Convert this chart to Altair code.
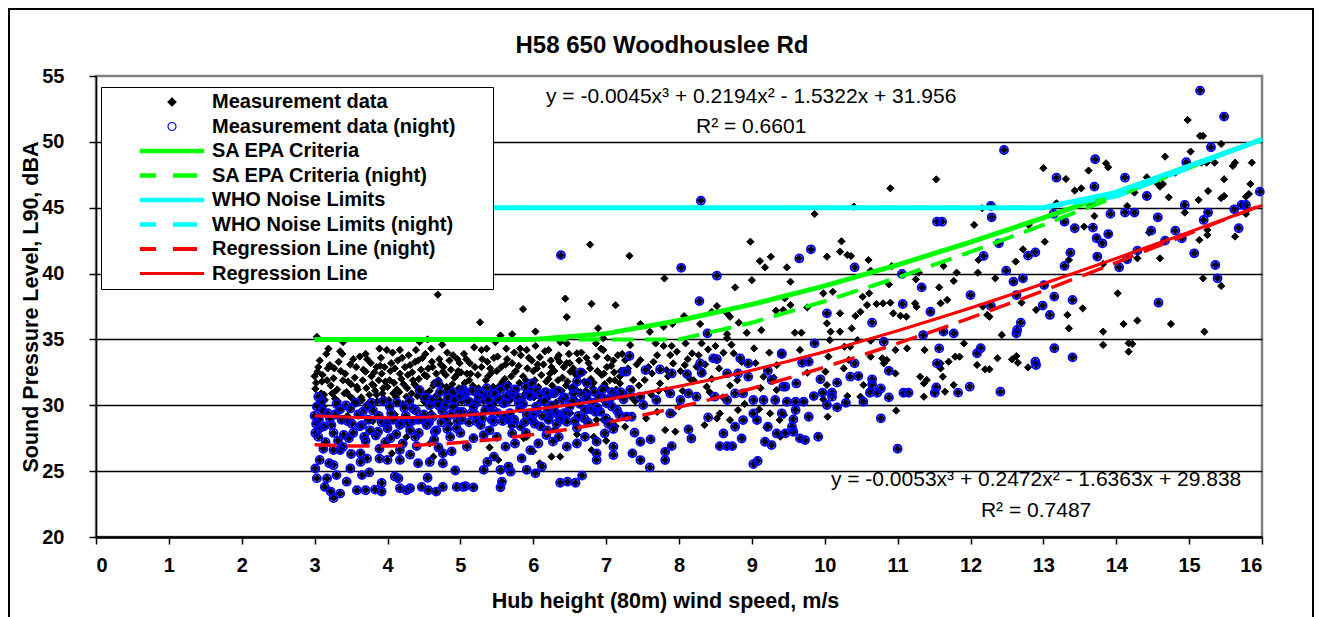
import altair as alt
import pandas as pd

TITLE = "H58 650 Woodhouslee Rd"
X_TITLE = "Hub height (80m) wind speed, m/s"
Y_TITLE = "Sound Pressure Level, L90, dBA"

SERIES = ["Measurement data", "Measurement data (night)", "SA EPA Criteria",
          "SA EPA Criteria (night)", "WHO Noise Limits", "WHO Noise Limits (night)",
          "Regression Line (night)", "Regression Line"]
COLORS = ["#000000", "#0000ff", "#00ff00", "#00ff00", "#00ffff", "#00ffff", "#ff0000", "#ff0000"]
FILLS = ["#000000", "transparent", "#00ff00", "#00ff00", "#00ffff", "#00ffff", "#ff0000", "#ff0000"]
# legend / point symbols (unit paths are scaled by the symbol size)
SOLID_THICK = "M-7.9,-0.44H7.9V0.44H-7.9Z"
DASH_THICK = "M-7.9,-0.4H-4.1V0.4H-7.9Z M0.4,-0.4H6.1V0.4H0.4Z"
SOLID_THIN = "M-7.9,-0.25H7.9V0.25H-7.9Z"
DASH_THIN = "M-7.9,-0.32H-4.1V0.32H-7.9Z M0.4,-0.32H6.1V0.32H0.4Z"
SHAPES = ["diamond", "circle", SOLID_THICK, DASH_THICK, SOLID_THICK, DASH_THICK, DASH_THIN, SOLID_THIN]

x_ticks = list(range(0, 17))
y_ticks = [20, 25, 30, 35, 40, 45, 50, 55]

# ---- measurement data (not night) : (wind speed m/s, L90 dBA)
day_3_5 = [(4.69,38.4),(3.03,35.2),(3.39,34.8),(3.35,34.1),(3.16,33.9),(3.53,33.5),(3.21,33.05),(3.18,32.8),(3.0,32.2),(3.04,32.55),(3.26,32.05),(3.39,31.9),(3.01,31.25),(3.09,30.9),(3.31,31.2),(3.44,31.0),(3.14,30.4),(3.89,34.3),(3.99,34.2),(4.17,34.2),(3.72,33.5),(3.7,32.55),(3.85,32.9),(3.92,32.4),(4.03,31.9),(4.17,32.4),(4.31,33.05),(4.42,33.4),(4.44,34.8),(4.55,35.0),(4.6,34.3),(4.71,33.5),(4.85,33.4),(4.99,33.2),(4.95,32.3),(4.35,31.9),(4.54,32.2),(4.76,32.55),(3.81,31.5),(3.94,31.3),(4.13,31.2),(4.63,31.5),(4.81,31.4),(5.04,31.4),(3.85,30.8),(4.26,30.65),(4.49,30.5),(4.72,30.4),(3.59,31.2),(3.65,30.4),
           (3.05,32.9),(3.1,31.8),(3.12,29.9),(3.22,31.5),(3.28,30.5),(3.33,33.3),(3.42,32.4),(3.48,30.7),(3.5,31.6),(3.57,32.9),(3.6,30.2),(3.66,31.9),(3.7,33.9),(3.75,30.8),(3.78,32.2),(3.83,31.1),(3.9,33.0),(3.95,30.5),(3.97,31.8),(4.05,33.2),(4.08,30.9),(4.1,32.8),(4.15,30.2),(4.2,33.6),(4.22,31.6),(4.28,32.3),(4.33,30.9),(4.38,33.3),(4.4,31.4),(4.46,32.7),(4.5,30.3),(4.52,33.9),(4.58,31.1),(4.62,32.9),(4.66,30.7),(4.7,31.9),(4.75,34.6),(4.78,30.1),(4.8,32.3),(4.86,31.2),(4.9,33.8),(4.93,30.6),(4.97,32.6),(5.02,30.3),(3.45,29.2),(3.8,28.8),(4.1,29.3),(4.6,29.4),(4.85,28.6),(4.26,27.6),(4.63,26.1),(4.58,27.1),(4.06,26.35),
           (3.02,31.7),(3.04,30.1),(3.07,33.4),(3.11,32.3),(3.13,30.8),(3.17,31.9),(3.19,34.3),(3.24,30.9),(3.27,32.8),(3.29,31.1),(3.32,30.3),(3.36,32.6),(3.38,33.9),(3.41,30.9),(3.46,31.8),(3.49,33.1),(3.52,30.5),(3.55,32.1),(3.58,31.4),(3.62,33.7),(3.64,30.6),(3.67,32.7),(3.71,31.3),(3.73,30.1),(3.77,33.2),(3.79,31.6),(3.82,32.5),(3.86,30.3),(3.88,31.9),(3.91,33.6),(3.93,30.9),(3.96,32.9),(4.0,31.4),(4.02,30.4),(4.04,32.6),(4.07,34.0),(4.09,31.7),(4.12,30.6),(4.14,33.4),(4.16,31.0),(4.19,32.0),(4.21,30.1),(4.24,32.9),(4.27,31.3),(4.29,33.8),(4.32,30.4),(4.34,32.5),(4.37,31.6),(4.39,34.2),(4.41,30.7),(4.43,32.0),(4.47,31.0),(4.48,33.6),(4.51,32.3),(4.53,30.9),(4.56,32.8),(4.59,30.5),(4.61,33.3),(4.64,31.7),(4.67,32.4),(4.69,30.2),(4.73,33.1),(4.74,31.5),(4.77,32.9),(4.79,31.0),(4.82,34.0),(4.84,30.4),(4.87,32.7),(4.89,31.6),(4.92,32.1),(4.94,30.1),(4.96,33.5),(4.98,31.3)]
day_5_7 = [(6.78,42.2),(6.44,38.1),(6.8,37.7),(7.13,37.6),(5.86,37.3),(6.46,36.7),(5.27,36.3),(5.55,35.3),(5.71,35.4),(6.03,35.6),(6.37,34.8),(6.46,34.7),(6.89,35.85),(6.96,35.1),(6.86,34.7),(5.36,34.3),(5.29,34.2),(5.82,34.3),(5.91,34.2),(6.21,34.2),(6.96,34.2),(5.46,33.6),(5.64,33.5),(6.09,33.65),(6.35,33.8),(6.6,33.95),(6.46,33.2),(5.13,33.2),(6.76,33.2),(7.01,32.9),(7.1,33.4),(6.05,32.8),(5.09,32.4),(5.41,32.8),(5.75,32.55),(6.23,32.4),(6.51,32.55),(7.19,32.2),(5.91,27.6),(6.25,26.1),(6.37,26.1),(6.09,25.6),(5.87,27.5),(5.52,25.85),(7.13,28.4),(6.96,28.9),(7.08,28.75),(6.87,28.9),(6.51,29.4),(6.83,27.6),
           (5.05,33.9),(5.12,31.9),(5.15,30.3),(5.2,32.9),(5.25,31.3),(5.3,33.5),(5.33,30.6),(5.38,32.2),(5.42,31.0),(5.48,34.8),(5.5,32.6),(5.53,30.4),(5.58,31.8),(5.62,33.1),(5.67,30.8),(5.7,32.2),(5.74,34.0),(5.78,31.2),(5.8,33.0),(5.85,30.5),(5.9,31.9),(5.94,33.6),(5.97,30.9),(6.0,32.6),(6.03,34.5),(6.07,31.4),(6.1,30.3),(6.14,33.1),(6.18,31.8),(6.22,30.7),(6.25,32.9),(6.3,31.2),(6.33,33.6),(6.38,30.5),(6.4,32.1),(6.45,31.5),(6.5,33.2),(6.53,30.9),(6.57,32.4),(6.62,31.0),(6.66,34.0),(6.7,31.8),(6.74,30.4),(6.78,32.8),(6.82,31.3),(6.87,33.7),(6.9,30.8),(6.94,32.3),(6.98,31.6),(7.03,30.2),(7.07,33.0),(7.12,31.9),(7.17,30.7),(7.2,32.6),(5.3,29.3),(5.7,28.4),(6.3,28.2),(6.6,27.8),(6.0,26.5),(5.4,26.8),(6.8,26.6),(7.0,27.3),
           (5.01,32.5),(5.03,30.9),(5.06,31.7),(5.08,33.5),(5.1,30.5),(5.14,32.4),(5.17,31.5),(5.19,34.4),(5.22,30.8),(5.24,32.3),(5.27,31.0),(5.29,32.9),(5.32,30.3),(5.35,31.9),(5.37,33.3),(5.39,30.7),(5.43,32.5),(5.45,31.4),(5.47,30.2),(5.51,33.7),(5.54,31.5),(5.56,32.9),(5.59,30.6),(5.61,32.0),(5.63,34.3),(5.66,31.6),(5.69,30.4),(5.71,33.2),(5.73,31.0),(5.76,32.6),(5.79,30.6),(5.81,31.7),(5.83,33.8),(5.86,32.2),(5.89,30.9),(5.92,32.8),(5.95,31.2),(5.98,33.4),(6.01,30.6),(6.02,31.9),(6.06,33.1),(6.08,30.9),(6.11,32.3),(6.13,31.0),(6.16,34.1),(6.19,30.5),(6.21,32.0),(6.24,33.4),(6.26,31.5),(6.29,32.6),(6.31,30.2),(6.34,31.9),(6.36,33.3),(6.39,31.1),(6.42,32.9),(6.44,30.6),(6.47,31.8),(6.49,33.9),(6.52,31.3),(6.55,32.8),(6.58,30.4),(6.61,32.2),(6.63,33.4),(6.65,31.0),(6.69,32.5),(6.72,31.1),(6.73,33.6),(6.77,30.9),(6.79,32.0),(6.83,31.7),(6.85,30.3),(6.88,32.6),(6.92,31.0),(6.93,34.3),(6.97,32.4),(7.0,31.3),(7.02,33.6),(7.05,31.9),(7.09,30.6),(7.11,32.5),(7.14,31.2),(7.16,33.8),(7.18,30.9)]
day_7_9 = [(8.98,42.42),(7.32,41.35),(9.11,40.95),(9.26,41.28),(9.18,40.47),(7.8,39.63),(9.0,39.5),(8.77,38.95),(8.52,37.53),(8.45,37.1),(8.66,36.98),(8.7,36.72),(8.07,36.77),(8.29,36.17),(7.79,35.96),(7.91,36.17),(7.47,36.17),(7.6,35.58),(8.93,35.5),(8.82,36.27),(9.13,35.7),(9.33,37.18),(9.43,37.23),(8.66,35.41),(8.66,35.1),(7.68,34.7),(7.33,34.57),(7.79,34.5),(8.09,34.7),(8.31,34.7),(8.4,34.24),(8.18,33.94),(7.88,33.81),(7.97,34.07),(9.03,34.32),(8.75,33.94),(8.61,33.99),(7.26,33.43),(7.47,33.43),(7.65,33.3),(7.92,33.18),(8.08,33.05),(8.24,32.93),(7.63,32.42),(7.83,32.67),(8.33,32.42),(7.53,31.92),(7.74,31.66),(9.34,33.05),(9.16,32.17),(7.19,31.66),(7.24,30.9),(7.37,31.92),(7.83,31.16),(8.38,31.41),(7.92,29.38),(8.56,29.38),(8.52,29.0),(7.81,28.12),(7.28,29.13),(7.26,28.37),(8.81,29.64),(8.7,28.88),(9.34,31.16),(9.38,28.88),(9.25,29.38),
           (7.4,30.3),(7.7,29.5),(8.0,29.9),(8.2,31.9),(8.45,32.0),(8.7,31.5),(8.9,30.1),(9.1,29.7),(9.2,28.3),(8.35,28.5),(7.95,28.0),(7.55,29.0),
           (7.22,33.9),(7.3,32.8),(7.35,30.6),(7.42,33.1),(7.45,31.5),(7.58,32.9),(7.62,30.8),(7.7,33.8),(7.72,31.1),(7.85,32.2),(7.9,34.5),(8.02,32.6),(8.05,31.1),(8.12,33.5),(8.15,32.0),(8.27,33.8),(8.36,33.1),(8.42,31.0),(8.5,34.5),(8.55,32.8),(8.6,30.6),(8.72,34.6),(8.8,31.9),(8.86,33.3),(9.05,33.2),(9.12,31.3),(9.24,34.0),(9.3,32.1)]
day_9_12 = [(11.53,47.15),(10.9,46.47),(10.4,45.08),(9.86,44.52),(10.23,42.45),(10.21,41.66),(10.31,41.41),(10.36,41.33),(10.03,41.28),(10.6,41.03),(9.48,40.47),(10.63,40.22),(10.92,40.57),(9.53,39.38),(11.25,39.56),(11.29,40.07),(10.88,39.18),(11.57,38.95),(11.63,40.57),(9.45,38.12),(9.98,38.5),(10.11,38.62),(10.52,38.24),(10.61,38.5),(9.76,37.43),(9.53,37.61),(10.21,36.98),(10.58,37.61),(10.71,37.69),(10.8,37.74),(10.9,37.79),(10.94,36.98),(11.04,36.8),(11.24,37.74),(11.26,37.48),(11.12,36.73),(10.49,37.1),(10.42,36.78),(10.37,35.84),(10.03,36.22),(10.08,35.59),(10.21,35.59),(9.59,35.51),(9.68,35.51),(10.07,34.95),(10.45,34.95),(10.63,34.9),(10.35,34.45),(10.27,34.45),(11.13,34.32),(10.97,34.2),(11.37,34.2),(10.63,33.69),(9.66,34.2),(10.05,33.69),(10.79,33.56),(10.85,33.44),(10.81,33.18),(11.59,33.18),(10.33,33.44),(10.97,32.42),(10.01,32.55),(10.26,32.8),(9.76,32.47),(11.31,32.17),(11.4,31.92),(11.36,31.66),(10.03,31.54),(10.53,31.54),(10.63,31.21),(10.31,30.7),(10.49,30.65),(9.98,30.45),(11.59,32.8),(11.36,30.65),(10.98,29.59),(10.04,29.13),(9.44,29.26),(9.39,27.61)]
day_12_16 = [(13.0,48.0),(13.62,47.82),(13.31,47.18),(13.43,46.3),(13.52,46.47),(13.18,45.34),(12.16,44.96),(13.7,44.37),(12.05,43.69),(12.8,43.69),(13.56,43.56),(13.02,42.42),(12.72,41.84),(12.11,41.03),(12.62,40.91),(13.35,41.03),(11.81,40.07),(12.1,40.07),(12.34,39.64),(11.77,39.44),(11.68,38.0),(11.59,37.74),(12.17,37.49),(12.23,36.86),(12.26,36.73),(12.7,37.79),(12.9,37.24),(13.33,36.86),(13.54,37.36),(13.35,35.84),(12.43,35.34),(11.91,34.7),(11.7,33.31),(11.79,33.69),(11.85,33.69),(12.09,33.06),(12.2,32.73),(12.26,32.73),(12.37,33.57),(12.57,33.49),(12.63,33.74),(12.65,33.23),(12.79,32.88),(11.62,32.17),(11.65,31.03),(11.77,31.54),(13.82,35.59),(13.82,34.58),
             (14.98,51.66),(15.15,50.45),(15.19,50.45),(15.44,49.84),(15.02,49.26),(13.86,48.37),(13.89,48.07),(14.67,48.88),(15.24,48.42),(15.35,48.42),(15.17,48.42),(15.63,48.42),(15.6,48.17),(15.86,48.42),(14.81,47.66),(14.42,47.31),(15.48,47.16),(14.57,46.8),(14.64,46.8),(14.6,46.6),(15.84,46.8),(14.25,46.15),(15.26,46.27),(14.72,45.79),(15.13,45.59),(15.44,45.72),(15.48,45.89),(15.78,45.84),(15.82,46.04),(14.15,45.13),(14.94,44.63),(15.78,44.53),(15.8,44.83),(14.45,43.11),(15.25,43.31),(15.25,42.93),(15.63,42.81),(15.14,42.55),(14.29,41.16),(14.6,41.16),(13.82,40.73),(14.02,38.5),(15.19,39.64),(15.44,39.06),(14.1,36.17),(14.29,36.43),(14.75,36.17),(15.21,35.59),(14.17,34.71),(14.22,34.66),(14.17,34.07)]

# ---- measurement data (night)
night_3_5 = [(3.05,30.65),(3.0,29.2),(3.21,29.0),(3.07,28.25),(3.01,27.9),(3.26,27.9),(3.4,27.75),(3.53,27.9),(3.65,28.5),(3.76,28.1),(3.87,28.0),(4.0,28.25),(4.17,28.5),(4.31,28.1),(4.42,28.9),(4.54,28.5),(4.67,28.1),(4.81,29.0),(4.95,28.25),(3.49,29.75),(3.35,29.7),(3.72,29.9),(4.03,29.9),(4.35,29.75),(4.58,30.0),(4.9,29.9),(4.72,31.0),(4.9,31.0),(5.04,31.15),(4.44,31.15),(4.69,31.7),(3.05,27.6),(3.12,26.7),(3.26,26.6),(3.35,26.6),(3.39,26.85),(3.63,26.35),(3.63,25.7),(3.72,25.95),(3.89,26.7),(3.89,25.95),(4.0,25.85),(4.17,25.85),(4.17,26.6),(4.31,26.25),(4.42,25.6),(4.58,25.7),(4.76,26.35),(4.76,25.6),(4.88,26.5),(3.01,25.2),(3.07,25.85),(3.2,25.6),(3.26,25.45),(3.03,24.45),(3.17,24.45),(3.49,25.2),(3.65,24.7),(3.14,23.8),(3.22,23.45),(3.26,22.95),(3.35,23.3),(3.44,24.2),(3.58,23.55),(3.7,23.55),(3.83,23.6),(3.92,24.1),(3.92,23.45),(4.15,24.45),(4.17,23.7),(4.26,23.55),(4.31,23.7),(4.47,23.8),(4.56,23.55),(4.67,23.45),(4.76,23.8),(4.95,23.8),(5.04,23.8),(4.93,25.05),
             (3.1,29.6),(3.3,30.1),(3.45,28.8),(3.6,29.3),(3.68,27.6),(3.8,29.6),(3.92,28.7),(4.05,29.4),(4.12,27.8),(4.23,29.8),(4.28,28.6),(4.38,27.6),(4.5,29.3),(4.6,30.4),(4.64,27.4),(4.75,29.6),(4.83,30.6),(4.86,27.6),(4.98,29.5),(5.0,30.7),(3.02,28.6),(3.15,27.2),(3.5,26.3),(3.97,27.2),(4.4,26.9),(4.7,26.8),(5.0,27.9),(3.75,24.9),(4.1,24.6),(4.55,24.5),(3.3,24.7),
             (3.03,29.9),(3.06,28.9),(3.09,30.3),(3.13,28.4),(3.18,29.4),(3.23,28.5),(3.28,29.3),(3.32,27.3),(3.37,28.9),(3.43,30.0),(3.47,27.5),(3.51,28.6),(3.56,30.2),(3.62,28.4),(3.66,29.5),(3.7,27.3),(3.74,28.9),(3.78,30.2),(3.84,27.7),(3.88,29.2),(3.94,30.3),(3.99,28.6),(4.04,27.5),(4.08,28.9),(4.13,30.2),(4.19,28.7),(4.21,27.1),(4.25,29.2),(4.3,30.3),(4.34,28.8),(4.39,29.6),(4.43,27.9),(4.48,28.9),(4.52,30.6),(4.57,28.7),(4.62,29.1),(4.65,28.0),(4.7,30.0),(4.74,28.7),(4.78,29.9),(4.82,28.2),(4.87,29.3),(4.91,30.4),(4.96,28.8)]
night_5_7 = [(6.38,41.4),(7.24,32.55),(6.65,32.5),(6.6,31.8),(6.74,31.67),(5.07,31.0),(5.27,31.0),(5.46,30.9),(5.64,31.4),(5.89,31.4),(5.98,31.67),(6.21,30.9),(6.56,30.9),(6.9,30.65),(7.08,31.0),(5.18,29.9),(5.41,29.9),(5.59,30.15),(5.82,29.77),(6.05,29.64),(6.23,29.26),(6.42,29.4),(6.71,29.64),(6.85,29.5),(7.01,30.15),(5.02,28.9),(5.23,28.75),(5.46,28.75),(5.66,28.9),(5.98,28.9),(6.21,28.9),(6.35,29.26),(6.46,28.75),(5.09,26.86),(5.18,27.5),(5.32,27.74),(5.5,27.6),(5.71,27.87),(5.62,26.86),(5.75,27.1),(5.96,26.6),(6.07,27.1),(6.18,27.74),(6.27,27.24),(6.46,26.86),(6.6,27.1),(6.71,27.6),(6.87,27.24),(6.98,27.87),(7.1,26.86),(6.87,26.35),(6.87,25.85),(7.1,26.22),(5.37,25.7),(5.32,25.1),(5.46,26.1),(5.55,25.1),(5.66,25.35),(5.69,24.96),(5.84,25.97),(5.91,25.1),(6.03,24.83),(6.12,25.35),(5.57,24.2),(5.55,23.77),(5.07,23.87),(5.18,23.77),(6.37,24.12),(6.47,24.2),(6.58,24.12),(6.67,24.66),
             (5.1,30.3),(5.15,29.4),(5.25,30.6),(5.3,29.0),(5.36,31.3),(5.45,29.6),(5.52,30.5),(5.6,29.1),(5.65,30.7),(5.72,28.6),(5.75,31.2),(5.8,30.2),(5.88,28.7),(5.93,30.8),(6.0,29.3),(6.05,31.1),(6.1,28.4),(6.15,30.3),(6.2,29.7),(6.28,30.9),(6.32,28.6),(6.4,30.4),(6.5,29.9),(6.55,31.3),(6.62,29.2),(6.68,30.8),(6.75,28.7),(6.8,30.2),(6.88,29.8),(6.95,31.2),(7.0,29.0),(7.05,30.5),(7.15,29.6),(7.2,31.0),(5.4,28.1),(5.9,27.9),(6.35,27.6),(6.6,28.3),(7.1,28.2),
             (5.03,29.5),(5.06,30.8),(5.12,28.7),(5.16,31.1),(5.2,29.3),(5.22,30.2),(5.28,28.5),(5.31,30.9),(5.34,29.6),(5.39,30.4),(5.43,28.9),(5.48,30.9),(5.51,29.4),(5.55,31.2),(5.58,28.8),(5.62,30.2),(5.68,29.4),(5.71,30.9),(5.74,28.9),(5.79,30.6),(5.83,28.4),(5.86,30.1),(5.91,29.3),(5.96,30.7),(6.02,28.6),(6.04,29.9),(6.09,30.8),(6.13,29.2),(6.17,31.0),(6.19,28.1),(6.25,30.0),(6.3,29.5),(6.34,31.1),(6.37,28.9),(6.43,30.6),(6.47,29.4),(6.53,30.3),(6.57,28.8),(6.64,30.1),(6.7,29.0),(6.73,30.6),(6.78,29.7),(6.84,31.0),(6.92,29.5),(6.97,30.5),(7.03,28.6),(7.08,29.9),(7.13,30.8),(7.18,29.3)]
night_7_9 = [(8.3,45.53),(8.03,40.44),(8.52,39.84),(8.28,37.91),(8.39,35.46),(7.32,33.74),(7.28,32.55),(7.54,32.67),(7.74,32.72),(7.9,32.42),(8.11,32.37),(8.29,33.18),(8.47,33.56),(8.52,33.51),(8.31,32.47),(8.84,33.56),(8.95,33.18),(8.81,32.42),(8.66,32.42),(8.95,32.17),(9.22,32.62),(9.41,33.89),(9.43,31.41),(9.27,31.92),(7.33,31.16),(7.47,30.65),(7.24,30.45),(7.51,30.02),(7.69,30.4),(7.88,30.9),(8.13,30.9),(8.02,30.4),(8.24,30.65),(8.49,30.65),(8.66,30.4),(8.77,30.9),(8.88,30.9),(9.02,30.4),(9.16,30.4),(9.32,30.4),(7.28,29.13),(7.35,29.13),(7.88,29.38),(8.4,29.08),(8.88,28.88),(9.02,29.38),(9.07,28.88),(9.22,28.37),(9.34,27.86),(9.18,27.23),(9.27,26.98),(8.77,28.37),(8.86,27.48),(8.61,27.86),(8.13,28.17),(8.17,27.48),(7.39,27.92),(7.47,27.23),(7.61,27.41),(7.9,26.9),(7.81,26.47),(7.36,26.35),(7.47,25.84),(7.81,25.84),(7.6,25.28),(8.56,26.9),(8.66,26.9),(8.73,26.9),(9.02,25.54),(9.08,25.77)]
night_9_12 = [(11.54,43.94),(11.61,43.94),(9.81,41.84),(9.65,41.15),(10.41,40.47),(11.06,39.97),(11.33,38.95),(11.07,37.69),(11.45,37.1),(10.03,36.98),(10.65,36.27),(11.63,35.59),(11.35,35.33),(9.86,34.7),(10.81,34.83),(11.57,34.32),(9.41,33.94),(9.69,33.23),(9.78,33.31),(10.41,33.18),(11.54,33.18),(10.88,32.62),(9.46,31.41),(9.61,31.66),(9.94,31.97),(10.17,31.72),(10.35,32.17),(10.46,32.22),(10.65,31.97),(10.65,31.59),(10.77,31.28),(10.72,30.95),(10.62,30.95),(11.08,30.95),(11.15,30.95),(11.53,31.36),(11.51,30.95),(9.85,30.7),(9.97,30.95),(10.1,30.95),(10.1,30.65),(10.29,30.19),(10.53,30.27),(10.88,30.6),(9.48,30.27),(9.6,30.27),(9.71,30.27),(10.03,30.02),(10.17,29.84),(9.6,29.64),(9.78,29.13),(9.41,29.39),(9.57,28.93),(9.55,28.37),(9.46,27.87),(9.57,27.99),(9.73,27.36),(9.66,27.49),(9.91,27.61),(10.77,29.01),(11.0,26.7)]
night_12_16 = [(12.46,49.38),(13.71,48.68),(13.18,47.28),(13.7,46.6),(12.28,45.13),(13.65,45.34),(12.29,44.27),(13.14,44.53),(13.29,43.94),(13.43,43.44),(13.68,43.49),(13.73,42.68),(13.81,42.3),(12.39,42.3),(12.18,41.34),(13.37,41.59),(12.79,41.36),(12.89,41.61),(13.74,41.29),(12.49,40.22),(13.29,40.58),(12.59,39.39),(12.72,39.64),(13.01,39.13),(12.63,38.37),(12.0,38.37),(13.15,38.25),(13.4,38.0),(12.28,37.54),(12.99,37.57),(13.09,36.86),(12.69,36.27),(12.64,35.72),(12.63,35.46),(11.77,35.46),(12.14,34.33),(12.09,33.95),(13.15,34.33),(13.4,33.64),(12.89,33.31),(12.9,33.06),(11.99,31.41),(12.41,31.03),(11.83,30.96),
               (15.15,53.89),(15.48,51.92),(15.3,49.59),(14.96,48.45),(14.12,47.28),(14.42,45.89),(15.97,46.22),(14.94,45.21),(13.92,44.53),(14.12,44.63),(14.25,44.63),(14.57,44.27),(15.62,44.88),(15.72,45.21),(15.78,45.21),(15.26,44.63),(15.2,44.07),(13.89,43.0),(14.48,43.26),(14.81,43.26),(14.9,42.68),(14.67,42.5),(14.29,41.74),(14.15,41.08),(15.68,43.44),(15.07,41.54),(14.04,40.48),(15.36,40.65),(15.39,39.64),(14.58,37.79)]

# ---- regression lines (fits shown on chart)
reg_x = [3.0, 3.5, 4.0, 4.5, 5.0, 5.5, 6.0, 6.5, 7.0, 7.5, 8.0, 8.5, 9.0, 9.5, 10.0, 10.5, 11.0, 11.5, 12.0, 12.5, 13.0, 13.5, 14.0, 14.5, 15.0, 15.5, 16.0]
reg_all = [29.21, 29.09, 29.05, 29.09, 29.22, 29.42, 29.69, 30.03, 30.44, 30.91, 31.44, 32.02, 32.66, 33.34, 34.07, 34.85, 35.66, 36.51, 37.39, 38.30, 39.23, 40.19, 41.16, 42.15, 43.15, 44.16, 45.18]
reg_night = [27.01, 26.91, 26.91, 27.00, 27.17, 27.43, 27.78, 28.19, 28.68, 29.24, 29.86, 30.54, 31.27, 32.06, 32.90, 33.78, 34.70, 35.65, 36.64, 37.66, 38.70, 39.76, 40.84, 41.93, 43.03, 44.13, 45.23]

# ---- criteria lines
crit_x = [3, 4, 5, 6, 7, 8, 9, 10, 11, 12, 13, 14, 15, 16]
sa_epa = [35.0, 35.0, 35.0, 35.0, 35.44, 36.44, 37.66, 39.07, 40.66, 42.39, 44.23, 46.16, 48.15, 50.18]
sa_epa_night = [35.0, 35.0, 35.0, 35.0, 35.0, 35.0, 36.27, 37.90, 39.70, 41.64, 43.70, 45.84, 48.03, 50.23]
who = [45.0, 45.0, 45.0, 45.0, 45.0, 45.0, 45.0, 45.0, 45.0, 45.0, 45.0, 46.16, 48.15, 50.18]
who_night = [45.0, 45.0, 45.0, 45.0, 45.0, 45.0, 45.0, 45.0, 45.0, 45.0, 45.0, 45.84, 48.03, 50.23]

# ---- trendline labels
eq_text = ["y = -0.0045x³ + 0.2194x² - 1.5322x + 31.956", "R² = 0.6601",
           "y = -0.0053x³ + 0.2472x² - 1.6363x + 29.838", "R² = 0.7487"]
eq_x = [8.99, 8.99, 12.9, 12.9]
eq_y = [52.95, 50.67, 23.9, 21.54]

# ---------------- build tables
day_all = day_3_5 + day_5_7 + day_7_9 + day_9_12 + day_12_16
night_all = night_3_5 + night_5_7 + night_7_9 + night_9_12 + night_12_16

diam_df = pd.DataFrame(day_all + night_all, columns=["x", "y"])
diam_df["series"] = SERIES[0]
circ_df = pd.DataFrame(night_all, columns=["x", "y"])
circ_df["series"] = SERIES[1]

def line_df(xs, ys, name):
    return pd.DataFrame({"x": xs, "y": ys, "series": name})

df_sa = line_df(crit_x, sa_epa, SERIES[2])
df_san = line_df(crit_x, sa_epa_night, SERIES[3])
df_who = line_df(crit_x, who, SERIES[4])
df_whon = line_df(crit_x, who_night, SERIES[5])
df_regn = line_df(reg_x, reg_night, SERIES[6])
df_reg = line_df(reg_x, reg_all, SERIES[7])
eq_df = pd.DataFrame({"x": eq_x, "y": eq_y, "t": eq_text})
frame_df = pd.DataFrame({"a": [0]})

FONT = "Liberation Sans"

X = alt.X("x:Q", scale=alt.Scale(domain=[0, 16], nice=False, zero=False),
          axis=alt.Axis(values=x_ticks, title=X_TITLE, grid=False, format="d",
                        tickSize=7, labelPadding=11, domainWidth=2.5,
                        titleX=569, titleY=70, titleBaseline="alphabetic", titleAlign="center"))
Y = alt.Y("y:Q", scale=alt.Scale(domain=[20, 55], nice=False, zero=False),
          axis=alt.Axis(values=y_ticks, title=Y_TITLE, grid=True, format="d",
                        gridColor={"condition": {"test": "datum.value >= 55", "value": "transparent"}, "value": "black"},
                        gridWidth=1.5, tickSize=7, labelPadding=25, domainWidth=1.5,
                        titleX=-65, titleY=230.5, titleAngle=270, titleBaseline="middle", titleAlign="center"))

LEGEND = alt.Legend(
    title=".", titleOrient="right", titleColor="transparent", titleFontSize=20, titlePadding=27,
    orient="none", legendX=5, legendY=11, direction="vertical",
    fillColor="white", strokeColor="black", padding=5,
    labelFont=FONT, labelFontSize=20, labelFontWeight="bold", labelColor="black", labelLimit=500,
    symbolSize=64, symbolStrokeWidth=1.2, symbolOffset=56, labelOffset=30, rowPadding=4.5, symbolOpacity=1,
)
STROKE = alt.Stroke("series:N", scale=alt.Scale(domain=SERIES, range=COLORS), legend=LEGEND)
FILL = alt.Fill("series:N", scale=alt.Scale(domain=SERIES, range=FILLS), legend=LEGEND)
SHAPE = alt.Shape("series:N", scale=alt.Scale(domain=SERIES, range=SHAPES), legend=LEGEND)

frame = alt.Chart(frame_df).mark_rect(fillOpacity=0, stroke="black", strokeWidth=2).encode(
    x=alt.value(-87), x2=alt.value(1217), y=alt.value(-67), y2=alt.value(560))

# plain series layer first (redrawn on top later) so the legend takes no mark styling
base_line = alt.Chart(df_reg).mark_line().encode(x=X, y=Y, stroke=STROKE)

diamonds = alt.Chart(diam_df).mark_point(size=52, strokeWidth=1, opacity=1).encode(
    x=X, y=Y, stroke=STROKE, fill=FILL, shape=SHAPE)
circles = alt.Chart(circ_df).mark_point(size=64, strokeWidth=1.8, opacity=1).encode(
    x=X, y=Y, stroke=STROKE, fill=FILL, shape=SHAPE)

def line_layer(df, width, dash=None):
    kw = dict(strokeWidth=width)
    if dash is not None:
        kw["strokeDash"] = dash
    return alt.Chart(df).mark_line(**kw).encode(x=X, y=Y, stroke=STROKE)

l_sa = line_layer(df_sa, 5)
l_san = line_layer(df_san, 4, [22, 11])
l_who = line_layer(df_who, 5)
l_whon = line_layer(df_whon, 4, [22, 11])
l_regn = line_layer(df_regn, 3.5, [22, 11])
l_reg = line_layer(df_reg, 3)

eqs = alt.Chart(eq_df).mark_text(font=FONT, fontSize=21, baseline="alphabetic", align="center", color="black").encode(
    x=X, y=Y, text="t:N")

chart = alt.layer(frame, base_line, diamonds, circles, l_sa, l_san, l_who, l_whon, l_regn, l_reg, eqs).properties(
    width=1166, height=461,
    autosize=alt.AutoSizeParams(type="none"),
    padding={"left": 88, "top": 68, "right": 52, "bottom": 80},
    title=alt.TitleParams(TITLE, font=FONT, fontSize=24, fontWeight="bold", color="black",
                          anchor="middle", baseline="alphabetic", offset=-69, dx=-17),
).configure(background="white").configure_view(
    stroke="#808080", strokeWidth=2.5
).configure_axis(
    labelFont=FONT, labelFontSize=20, labelFontWeight="bold", labelColor="black",
    titleFont=FONT, titleFontSize=21.5, titleFontWeight="bold", titleColor="black",
    domainColor="black", tickColor="black", tickWidth=1.5
)

chart.save("out.html", embed_options={"renderer": "svg", "actions": False})
